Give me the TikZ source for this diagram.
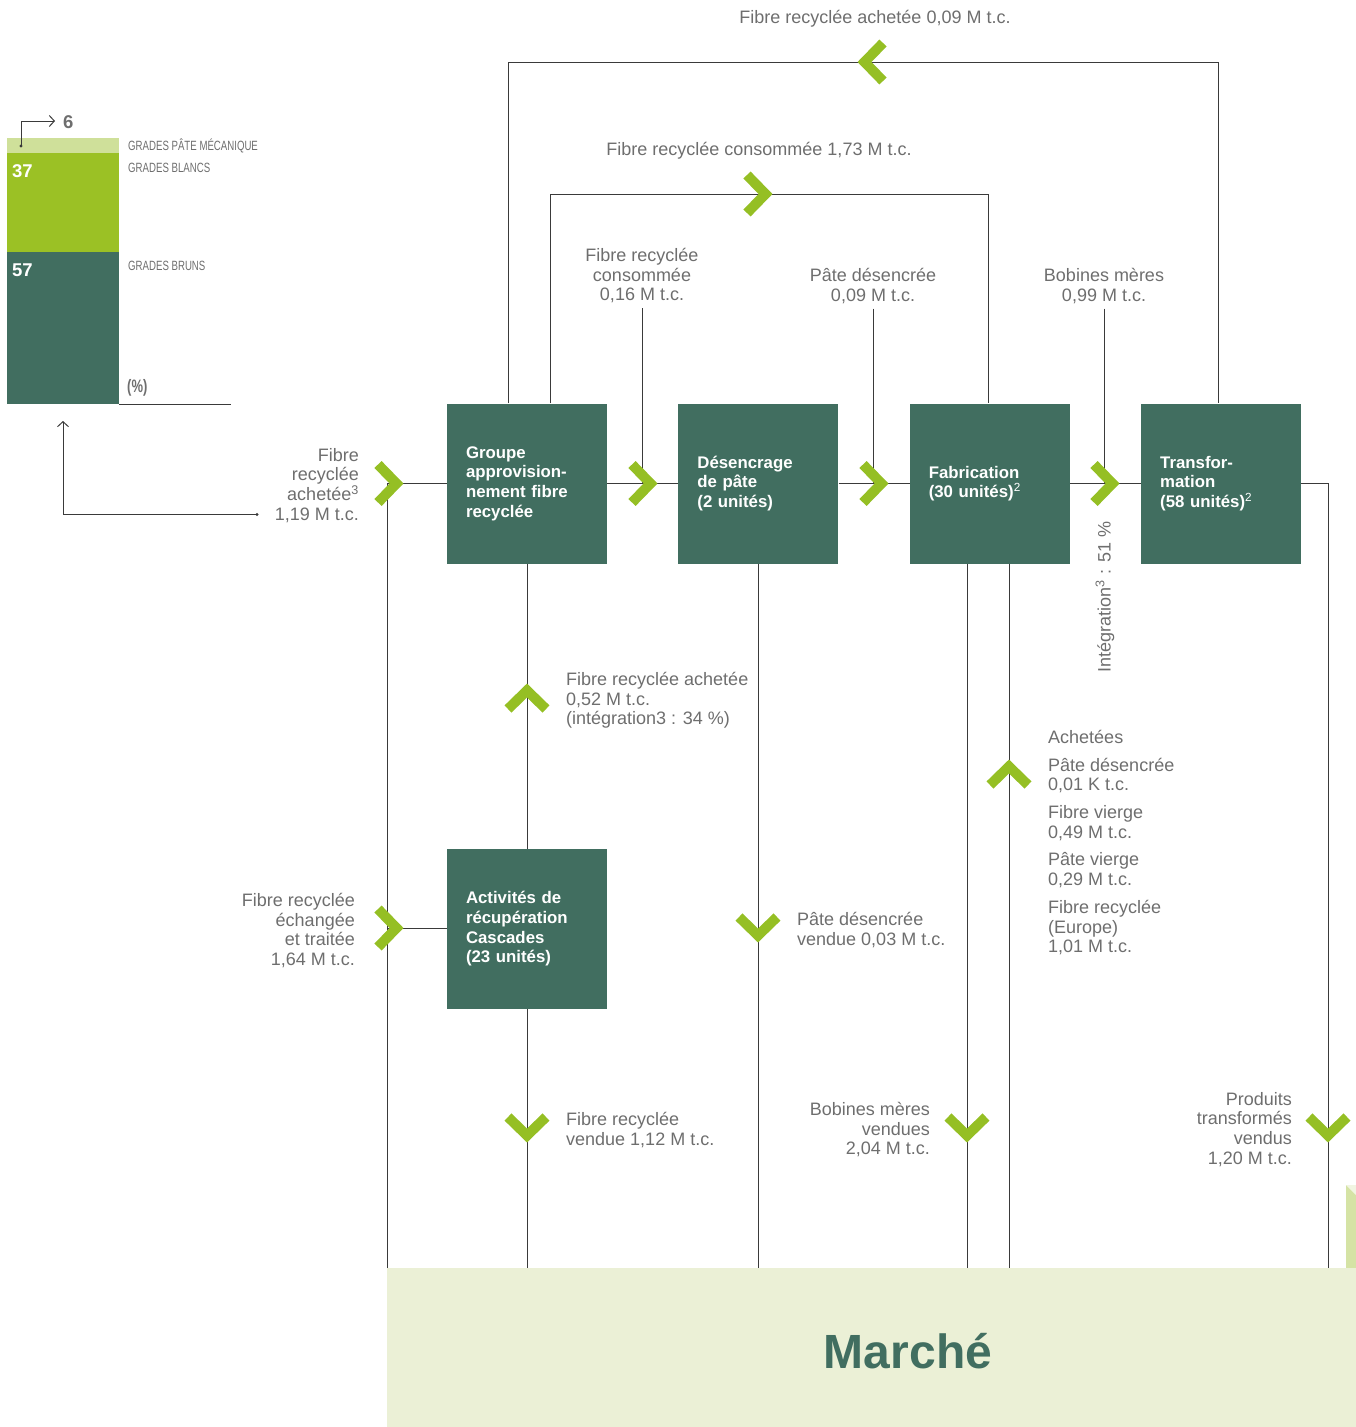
\documentclass[tikz,border=0pt]{standalone}
\usepackage{fontspec}
\setmainfont{Liberation Sans}
\newfontfamily\narrowfont[FakeStretch=0.72]{Liberation Sans}
\usetikzlibrary{arrows.meta, positioning, calc}
\definecolor{boxGreen}{HTML}{416E60}
\definecolor{chevGreen}{HTML}{95BF24}
\definecolor{paleGreen}{HTML}{CFE09A}
\definecolor{midGreen}{HTML}{9BC125}
\definecolor{marketBg}{HTML}{EBF0D6}
\definecolor{foldGreen}{HTML}{D5E3A5}
\definecolor{labelGrey}{HTML}{6E6E6E}
\definecolor{lineGrey}{HTML}{3A3A3A}
\newcommand{\supNote}[1]{\textsuperscript{\mdseries #1}}
\tikzset{
    unitBox/.style={
        rectangle,
        fill=boxGreen,
        text=white,
        minimum width=160pt,
        minimum height=160pt,
        text width=122pt,
        align=left,
        inner sep=0pt,
        font=\fontsize{16.8}{19.6}\selectfont\bfseries
    },
    flowLine/.style={
        draw=lineGrey,
        line width=1pt
    },
    flowLabel/.style={
        text=labelGrey,
        inner sep=0pt,
        font=\fontsize{18}{19.7}\selectfont
    },
    gradeLabel/.style={
        text=labelGrey,
        inner sep=0pt,
        anchor=west,
        font=\narrowfont\fontsize{13.4}{15}\selectfont
    },
    barNum/.style={
        text=white,
        inner sep=0pt,
        anchor=west,
        font=\fontsize{18.5}{19}\selectfont\bfseries
    },
    chevLine/.style={
        draw=chevGreen,
        line width=10pt,
        line join=miter,
        miter limit=10
    },
    chev/.pic={\draw[chevLine] (-25,-19) -- (-6.5,0) -- (-25,19);}
}

\begin{document}
\begin{tikzpicture}[x=1pt, y=-1pt, >={Straight Barb[length=5pt, width=11pt]}]
        \useasboundingbox (0,0) rectangle (1356,1427);

        % Bar chart (grades)
        \fill[paleGreen] (7,138) rectangle (119,153);
        \fill[midGreen] (7,153) rectangle (119,252);
        \fill[boxGreen] (7,252) rectangle (119,404);
        \draw[flowLine] (119,404) -- (231,404);
        \node[barNum] (numWhite) at (12,171) {37};
        \node[barNum] (numBrown) at (12,270) {57};
        \node[gradeLabel] (gMech) at (128,146) {GRADES PÂTE MÉCANIQUE};
        \node[gradeLabel] (gWhite) at (128,168) {GRADES BLANCS};
        \node[gradeLabel] (gBrown) at (128,266) {GRADES BRUNS};
        \node[gradeLabel, font=\narrowfont\fontsize{18}{18}\selectfont\bfseries] (gUnit) at (127,388) {(\%)};
        \node[text=labelGrey, inner sep=0pt, anchor=west, font=\fontsize{18.5}{19}\selectfont\bfseries] (numMech) at (63,122) {6};

        \coordinate (mechDot) at (21,146);
        \coordinate (mechTip) at (55,121);
        \fill[lineGrey] (mechDot) circle (1.6);
        \draw[flowLine, ->] (mechDot) |- (mechTip);

        % Return arrow to the chart
        \coordinate (inDot) at (257,514.5);
        \coordinate (chartTip) at (63,421);
        \fill[lineGrey] (inDot) circle (1.6);
        \draw[flowLine, ->] (inDot) -| (chartTip);

        % Market
        \fill[foldGreen] (1346,1185) -- (1356,1195) -- (1356,1268) -- (1346,1268) -- cycle;
        \fill[marketBg!70!white] (1346,1185) -- (1356,1185) -- (1356,1195) -- cycle;
        \node[rectangle, fill=marketBg, minimum width=969pt, minimum height=159pt, inner sep=0pt, anchor=north west] (mkt) at (387,1268) {};
        \node[text=boxGreen, font=\fontsize{48}{48}\selectfont\bfseries] (mktText) at (908,1351) {Marché};

        % Units
        \node[unitBox] (grp) at (527,483.5) {Groupe\\approvision-\\nement fibre\\recyclée};
        \node[unitBox, right=71pt of grp] (des) {Désencrage\\de pâte\\(2 unités)};
        \node[unitBox, right=71pt of des] (fab) {Fabrication\\(30 unités)\supNote{2}};
        \node[unitBox, right=71pt of fab] (trf) {Transfor-\\mation\\(58 unités)\supNote{2}};
        \node[unitBox, below=285pt of grp] (act) {Activités de\\récupération\\Cascades\\(23 unités)};

        % Coordinate Definitions
        \coordinate (leftTop) at (387,483.5);
        \coordinate (rightTop) at (1328,483.5);
        \coordinate (innerL) at (550,194);
        \coordinate (innerR) at (988,194);
        \coordinate (outerL) at (508,62);
        \coordinate (outerR) at (1218,62);
        \coordinate (fabOut) at (967,563.5);
        \coordinate (fabIn) at (1009,563.5);

        % Flow lines
        \draw[flowLine] (leftTop) -- (grp.west);
        \draw[flowLine] (grp.east) -- (des.west);
        \draw[flowLine] (des.east) -- (fab.west);
        \draw[flowLine] (fab.east) -- (trf.west);
        \draw[flowLine] (trf.east) -- (rightTop) -- (rightTop |- mkt.north);
        \draw[flowLine] (leftTop) -- (leftTop |- mkt.north);
        \draw[flowLine] (grp.north -| innerL) -- (innerL) -- (innerR) -- (fab.north -| innerR);
        \draw[flowLine] (grp.north -| outerL) -- (outerL) -- (outerR) -- (trf.north -| outerR);
        \draw[flowLine] (grp.south) -- (act.north);
        \draw[flowLine] (act.west) -- (act.west -| leftTop);
        \draw[flowLine] (act.south) -- (act.south |- mkt.north);
        \draw[flowLine] (des.south) -- (des.south |- mkt.north);
        \draw[flowLine] (fabOut) -- (fabOut |- mkt.north);
        \draw[flowLine] (fabIn) -- (fabIn |- mkt.north);

        % Labels
        \node[flowLabel, anchor=north] (lblTopBuy) at (875,10) {Fibre recyclée achetée 0,09 M t.c.};
        \node[flowLabel, anchor=north] (lblTopCons) at (759,142) {Fibre recyclée consommée 1,73 M t.c.};
        \node[flowLabel, anchor=north, align=center] (lblCons) at (642,248) {Fibre recyclée\\consommée\\0,16 M t.c.};
        \node[flowLabel, anchor=north, align=center] (lblPate) at (873,268) {Pâte désencrée\\0,09 M t.c.};
        \node[flowLabel, anchor=north, align=center] (lblBob) at (1104,268) {Bobines mères\\0,99 M t.c.};
        \node[flowLabel, anchor=north east, align=right] (lblIn) at (359,448) {Fibre\\recyclée\\achetée\supNote{3}\\1,19 M t.c.};
        \node[flowLabel, anchor=north west, align=left] (lblBuyAct) at (566,672) {Fibre recyclée achetée\\0,52 M t.c.\\(intégration3 : 34 \%)};
        \node[flowLabel, rotate=90] (lblInteg) at (1105,597) {Intégration\supNote{3} : 51 \%};
        \node[flowLabel, anchor=north west, align=left] (lblBought) at (1048,730) {Achetées\\[8pt]Pâte désencrée\\0,01 K t.c.\\[8pt]Fibre vierge\\0,49 M t.c.\\[8pt]Pâte vierge\\0,29 M t.c.\\[8pt]Fibre recyclée\\(Europe)\\1,01 M t.c.};
        \node[flowLabel, anchor=north east, align=right] (lblSwap) at (355,893) {Fibre recyclée\\échangée\\et traitée\\1,64 M t.c.};
        \node[flowLabel, anchor=north west, align=left] (lblPateSold) at (797,912) {Pâte désencrée\\vendue 0,03 M t.c.};
        \node[flowLabel, anchor=north west, align=left] (lblFibreSold) at (566,1112) {Fibre recyclée\\vendue 1,12 M t.c.};
        \node[flowLabel, anchor=north east, align=right] (lblBobSold) at (930,1102) {Bobines mères\\vendues\\2,04 M t.c.};
        \node[flowLabel, anchor=north east, align=right] (lblProd) at (1292,1092) {Produits\\transformés\\vendus\\1,20 M t.c.};

        % Drops from labels to main line
        \draw[flowLine] ([yshift=-5pt]lblCons.south) -- (lblCons.south |- grp.east);
        \draw[flowLine] ([yshift=-5pt]lblPate.south) -- (lblPate.south |- grp.east);
        \draw[flowLine] ([yshift=-5pt]lblBob.south) -- (lblBob.south |- grp.east);

        % Macro for chevrons
        \def\drawChev#1#2{
            \pic[rotate=#2] at (#1) {chev};
        }

        % Draw Chevrons
        \drawChev{403,483.5}{0}
        \drawChev{657,483.5}{0}
        \drawChev{888,483.5}{0}
        \drawChev{1119,483.5}{0}
        \drawChev{772,194}{0}
        \drawChev{858,62}{180}
        \drawChev{527,684}{90}
        \drawChev{403,928}{0}
        \drawChev{527,1142}{-90}
        \drawChev{758,942}{-90}
        \drawChev{967,1142}{-90}
        \drawChev{1009,760}{90}
        \drawChev{1328,1142}{-90}

    \end{tikzpicture}
\end{document}
